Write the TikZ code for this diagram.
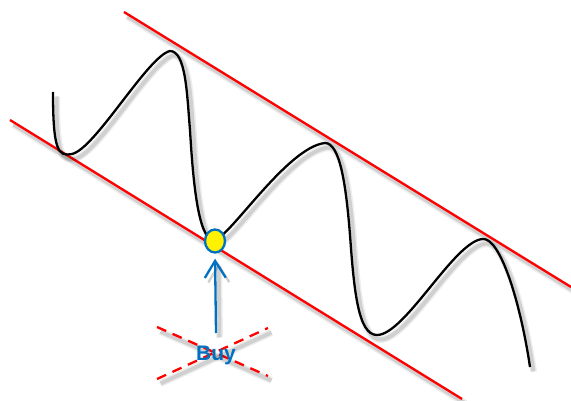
\documentclass[tikz,border=0pt]{standalone}
\usepackage{fontspec}
\setmainfont{Liberation Sans}
\usetikzlibrary{arrows.meta,shapes.geometric}
\definecolor{buyblue}{RGB}{0,112,192}
\tikzset{
  shadowed/.style={
    preaction={draw=black, draw opacity=0.07, line width=7pt, transform canvas={shift={(3.5pt,-4.5pt)}}},
    preaction={draw=black, draw opacity=0.12, line width=4pt, transform canvas={shift={(3.5pt,-4.5pt)}}}},
  channel/.style={draw=red, line width=2.3pt, shadowed},
  price/.style={draw=black, line width=2.3pt, shadowed},
  cross/.style={draw=red, line width=2.3pt, dash pattern=on 10pt off 7pt, shadowed},
  buypt/.style={ellipse, draw=buyblue, line width=2.3pt, fill=yellow, minimum width=20pt, minimum height=23pt, inner sep=0pt},
  buylabel/.style={text=buyblue, font=\fontsize{21}{23}\selectfont\bfseries, inner sep=0pt}
}
\begin{document}
\begin{tikzpicture}[x=1pt,y=-1pt]
\useasboundingbox (0,0) rectangle (571,401);
% channel lines
\coordinate (l1) at (10,120);
\coordinate (l2) at (462,399);
\coordinate (u1) at (124,12);
\coordinate (u2) at (571,287);
\draw[channel] (l1) -- (l2);
\draw[channel] (u1) -- (u2);
% price curve
\draw[price] (53,92) .. controls (53,150) and (58,157) .. (72,154)
  .. controls (95,149) and (148,56) .. (170,51)
  .. controls (186,51) and (187,95) .. (190,130)
  .. controls (193,180) and (198,240) .. (214,240)
  .. controls (228,240) and (287,147) .. (325,143)
  .. controls (340,143) and (346,185) .. (350,235)
  .. controls (354,290) and (358,335) .. (377,335)
  .. controls (405,335) and (455,240) .. (483,239)
  .. controls (500,238) and (520,300) .. (530,367);
% dashed cross
\coordinate (c1) at (157,327);
\coordinate (c2) at (268,376);
\coordinate (c3) at (157,379);
\coordinate (c4) at (268,328);
\draw[cross] (c1) -- (c2);
\draw[cross] (c3) -- (c4);
% buy point
\node[buypt] (pt) at (215,241) {};
\node[buylabel] (buy) at (216,355) {Buy};
\coordinate (arrstart) at (216,333);
\draw[draw=buyblue, line width=2.3pt, -{Straight Barb[length=17pt,width=21pt,line width=2.3pt]}, shorten >=5pt, shadowed] (arrstart) -- (pt.south);
\end{tikzpicture}
\end{document}
